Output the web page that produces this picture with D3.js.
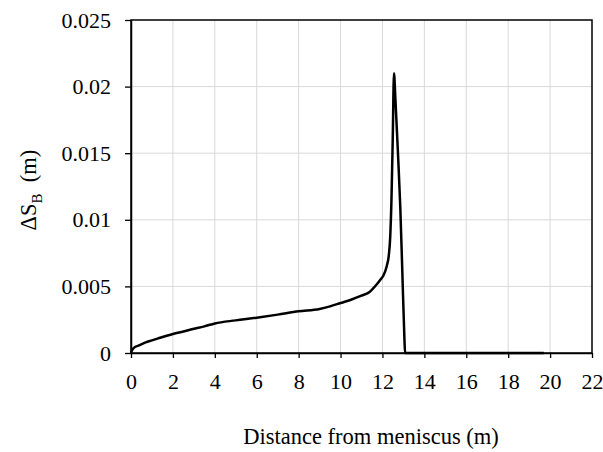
<!DOCTYPE html>
<html>
<head>
<meta charset="utf-8">
<script src="https://cdn.jsdelivr.net/npm/d3@7"></script>
<style>
  body { margin: 0; background: #fff; }
</style>
</head>
<body>
<svg id="chart" width="603" height="452"></svg>
<script>
// distance from meniscus (m)
const distance = [0, 0.05, 0.15, 0.35, 0.7, 1.0, 1.3, 2.0, 2.5, 2.9, 3.5, 4.0, 5.0, 6.0, 7.0, 8.0,
  9.0, 9.5, 10.0, 10.5, 11.0, 11.4, 11.7, 11.9, 12.04, 12.2, 12.3, 12.37, 12.43, 12.49, 12.55,
  12.62, 12.74, 12.85, 12.95, 13.05, 13.08, 19.7];
// bulging delta S_B (m)
const deltaS = [0, 0.0002, 0.0004, 0.00055, 0.0008, 0.00095, 0.0011, 0.00143, 0.00162, 0.00178,
  0.002, 0.00222, 0.00245, 0.00265, 0.00288, 0.00313, 0.0033, 0.0035, 0.00375, 0.004, 0.0043,
  0.0046, 0.0051, 0.0055, 0.0058, 0.0065, 0.0073, 0.0087, 0.0115, 0.016, 0.021,
  0.019, 0.015, 0.011, 0.006, 0.001, 0, 0];

const xTicks = d3.range(0, 23, 2);
const yTicks = [0, 0.005, 0.01, 0.015, 0.02, 0.025];

const FONT = "'Liberation Serif', 'DejaVu Serif', serif";
const margin = { left: 131, right: 11, top: 20, bottom: 99 };
const svg = d3.select("#chart");
const width = 603 - margin.left - margin.right;
const height = 452 - margin.top - margin.bottom;

const X_SCALE = d3.scaleLinear().domain([0, 22]).range([0, width]);
const Y_SCALE = d3.scaleLinear().domain([0, 0.025]).range([height, 0]);

const chart = svg.append("g").attr("transform", `translate(${margin.left},${margin.top})`);

// gridlines
chart.append("g")
  .selectAll("line")
  .data(xTicks.slice(1, -1))
  .enter()
  .append("line")
  .attr("x1", d => X_SCALE(d)).attr("x2", d => X_SCALE(d))
  .attr("y1", 0).attr("y2", height)
  .attr("stroke", "#d9d9d9").attr("stroke-width", 1);

chart.append("g")
  .selectAll("line")
  .data(yTicks.slice(1, -1))
  .enter()
  .append("line")
  .attr("x1", 0).attr("x2", width)
  .attr("y1", d => Y_SCALE(d)).attr("y2", d => Y_SCALE(d))
  .attr("stroke", "#d9d9d9").attr("stroke-width", 1);

// frame
chart.append("rect")
  .attr("x", 0).attr("y", 0)
  .attr("width", width).attr("height", height)
  .attr("fill", "none").attr("stroke", "#000").attr("stroke-width", 1.5);

// axes
const X_AXIS = d3.axisBottom(X_SCALE).tickValues(xTicks).tickSize(5).tickSizeOuter(0).tickPadding(15);
const xAxisG = chart.append("g")
  .attr("transform", `translate(0,${height})`)
  .call(X_AXIS)
  .attr("font-family", FONT)
  .attr("font-size", 22);
xAxisG.select(".domain").attr("stroke", "#000").attr("stroke-width", 1.5);
xAxisG.selectAll(".tick line").attr("stroke", "#000").attr("stroke-width", 1.3);
xAxisG.selectAll(".tick text").attr("fill", "#000");

const Y_AXIS = d3.axisLeft(Y_SCALE).tickValues(yTicks).tickSize(6).tickSizeOuter(0).tickPadding(14)
  .tickFormat(d => d === 0 ? "0" : String(+d.toFixed(3)));
const yAxisG = chart.append("g").call(Y_AXIS)
  .attr("font-family", FONT)
  .attr("font-size", 22);
yAxisG.select(".domain").attr("stroke", "#000").attr("stroke-width", 1.5);
yAxisG.selectAll(".tick line").attr("stroke", "#000").attr("stroke-width", 1.3);
yAxisG.selectAll(".tick text").attr("fill", "#000");

// data line
const points = distance.map((d, i) => ({ x: d, y: deltaS[i] }));
const line = d3.line()
  .x(d => X_SCALE(d.x))
  .y(d => Y_SCALE(d.y))
  .curve(d3.curveMonotoneX);

chart.append("path")
  .datum(points)
  .attr("d", line)
  .attr("fill", "none")
  .attr("stroke", "#000")
  .attr("stroke-width", 2.5)
  .attr("stroke-linejoin", "round");

// axis titles
svg.append("text")
  .attr("x", 371).attr("y", 444)
  .attr("text-anchor", "middle")
  .attr("font-family", FONT)
  .attr("font-size", 22.5)
  .text("Distance from meniscus (m)");

const yTitle = svg.append("text")
  .attr("transform", "translate(36,190) rotate(-90)")
  .attr("text-anchor", "middle")
  .attr("font-family", FONT)
  .attr("font-size", 22.5);
yTitle.append("tspan").text("ΔS");
yTitle.append("tspan").attr("font-size", 15).attr("dy", 6).text("B");
yTitle.append("tspan").attr("dy", -6).text("\u00a0\u00a0(m)");
</script>
</body>
</html>
